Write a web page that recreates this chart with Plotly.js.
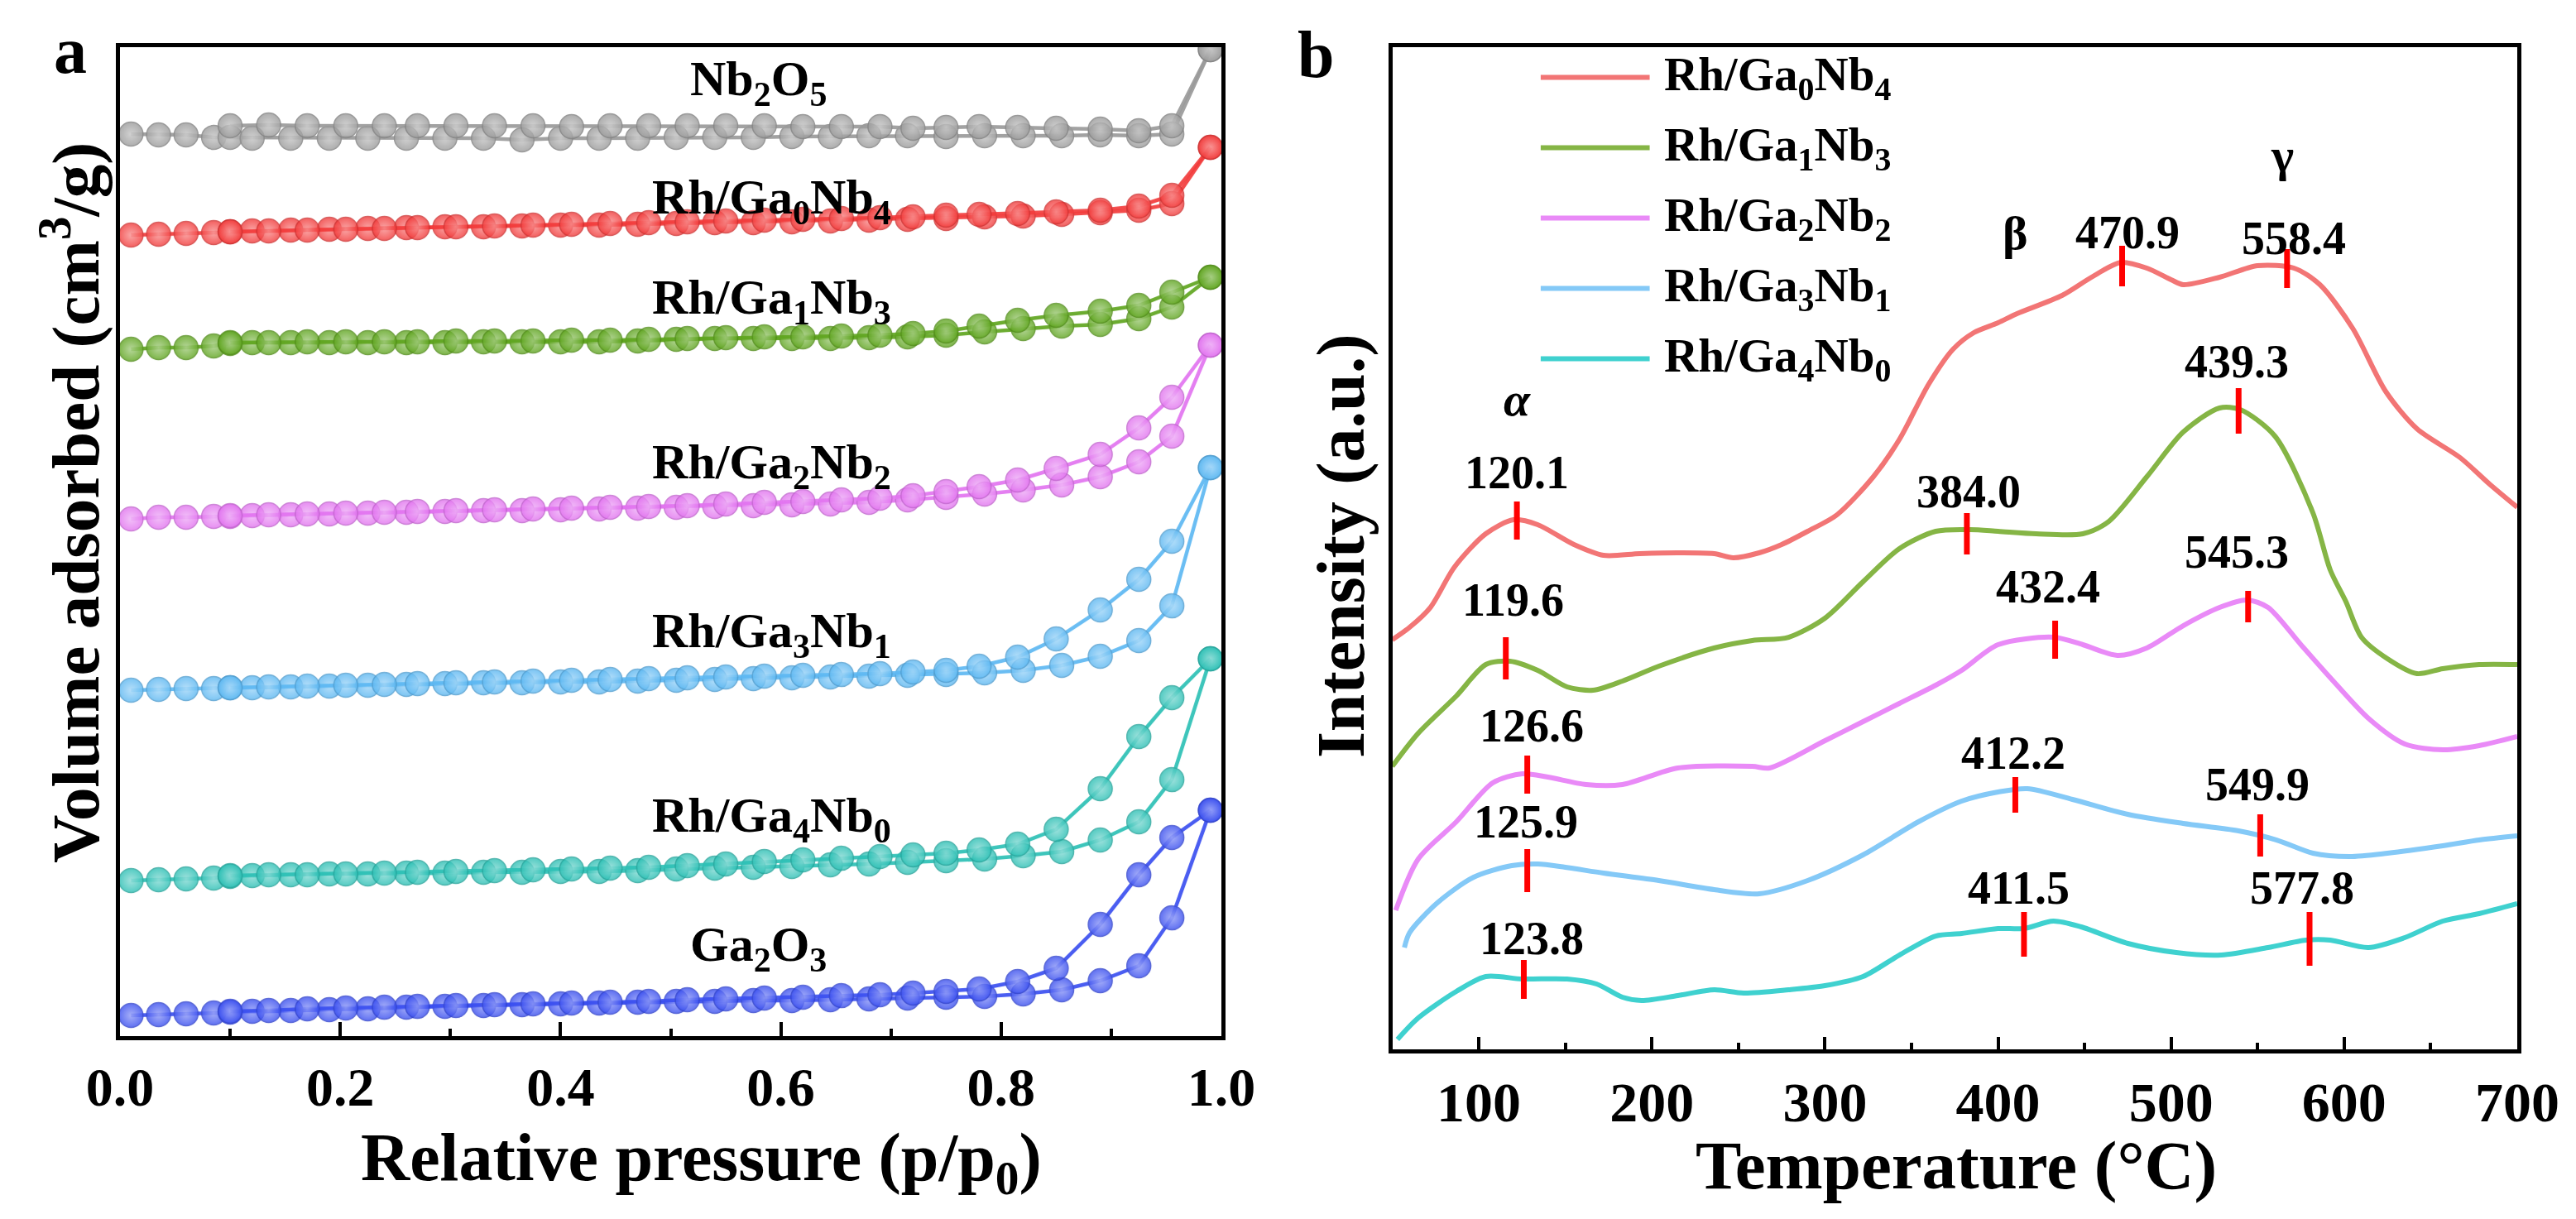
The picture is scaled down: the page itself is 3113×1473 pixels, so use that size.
<!DOCTYPE html>
<html>
<head>
<meta charset="utf-8">
<script src="https://cdn.plot.ly/plotly-3.0.1.min.js"></script>
<style>body{margin:0;background:#fff}</style>
</head>
<body>
<div id="chart" style="width:3113px;height:1473px"></div>
<script>
// ---- panel a : N2 isotherms (offset volume, arbitrary units) ----
var adsP = [0.01,0.035,0.06,0.085,0.10,0.12,0.155,0.19,0.225,0.26,0.295,0.33,0.365,0.40,0.435,0.47,0.505,0.54,0.575,0.61,0.645,0.68,0.715,0.75,0.785,0.82,0.855,0.89,0.925,0.955,0.99];
var desP = [0.99,0.955,0.925,0.89,0.85,0.815,0.78,0.75,0.72,0.69,0.655,0.62,0.585,0.55,0.515,0.48,0.445,0.41,0.375,0.34,0.305,0.27,0.24,0.205,0.17,0.135,0.10];

var nb2o5Ads = [1090,1089,1089,1086,1086,1085,1085,1085,1085,1085,1085,1085,1083,1085,1085,1085,1086,1086,1086,1087,1087,1088,1088,1087,1088,1088,1088,1089,1088,1090,1192];
var nb2o5Des = [1192,1100,1094,1096,1097,1098,1099,1098,1097,1099,1099,1099,1100,1100,1100,1100,1100,1099,1100,1100,1100,1100,1100,1100,1100,1101,1100];
var ga0nb4Ads = [968,969,970,971,972,973,974,975,976,977,978,978,979,980,980,981,982,983,983,984,985,986,987,988,990,991,993,995,998,1006,1074];
var ga0nb4Des = [1074,1016,1003,998,996,994,993,992,990,989,988,987,986,985,984,983,982,981,980,979,978,977,976,975,974,973,972];
var ga1nb3Ads = [830,832,832,834,837,838,838,838,838,838,838,839,839,839,839,840,842,843,843,843,843,844,845,847,851,855,858,860,867,881,917];
var ga1nb3Des = [917,899,883,876,871,865,858,852,849,847,846,845,845,844,843,842,841,841,840,840,840,839,839,839,839,838,838];
var ga2nb2Ads = [625,627,627,628,628,629,630,631,632,633,634,635,635,636,637,638,639,640,641,642,643,645,648,651,655,660,666,676,694,725,835];
var ga2nb2Des = [835,772,735,703,686,672,664,658,653,650,648,646,645,643,641,640,639,638,637,636,635,634,633,632,631,630,629];
var ga3nb1Ads = [418,419,420,420,421,421,422,423,424,425,426,427,427,428,428,429,430,431,432,433,434,435,436,437,439,442,448,459,478,520,687];
var ga3nb1Des = [687,598,552,515,480,458,447,442,440,438,437,436,435,434,433,432,431,430,429,428,427,426,425,424,423,422,421];
var ga4nb0Ads = [188,189,190,191,193,194,195,196,196,197,197,198,198,199,199,200,202,203,204,205,207,208,210,212,214,218,223,237,259,310,456];
var ga4nb0Des = [456,409,362,299,250,232,225,221,219,217,215,213,211,208,206,204,203,202,201,200,199,198,197,196,195,195,194];
var ga2o3Ads = [25,26,27,28,29,30,31,32,33,35,36,37,38,39,40,41,42,42,43,43,44,45,46,47,48,51,56,67,85,143,273];
var ga2o3Des = [273,240,195,135,82,66,57,54,52,50,49,47,46,45,44,42,41,40,39,38,37,36,35,34,33,31,30];

var isoNames = ['Nb<sub>2</sub>O<sub>5</sub>','Rh/Ga<sub>0</sub>Nb<sub>4</sub>','Rh/Ga<sub>1</sub>Nb<sub>3</sub>','Rh/Ga<sub>2</sub>Nb<sub>2</sub>','Rh/Ga<sub>3</sub>Nb<sub>1</sub>','Rh/Ga<sub>4</sub>Nb<sub>0</sub>','Ga<sub>2</sub>O<sub>3</sub>'];
var isoAds = [nb2o5Ads, ga0nb4Ads, ga1nb3Ads, ga2nb2Ads, ga3nb1Ads, ga4nb0Ads, ga2o3Ads];
var isoDes = [nb2o5Des, ga0nb4Des, ga1nb3Des, ga2nb2Des, ga3nb1Des, ga4nb0Des, ga2o3Des];
var isoLabelP = [0.58, 0.592, 0.592, 0.592, 0.592, 0.592, 0.58];
var isoLabelV = [1153, 1010, 889, 690, 486, 263, 107];

// ---- panel b : H2-TPR ----
var tprNames = ['Rh/Ga<sub>0</sub>Nb<sub>4</sub>','Rh/Ga<sub>1</sub>Nb<sub>3</sub>','Rh/Ga<sub>2</sub>Nb<sub>2</sub>','Rh/Ga<sub>3</sub>Nb<sub>1</sub>','Rh/Ga<sub>4</sub>Nb<sub>0</sub>'];
var tRed = [50,60,72,86,104,120,134,155,172,193,215,236,247,262,275,290,307,328,343,360,374,386,400,411,437,454,471,486,500,507,528,550,571,586,605,624,642,667,684,700];
var iRed = [495,510,534,583,623,640,634,610,597,599,600,599,594,600,610,626,646,692,737,804,846,866,878,889,911,933,951,944,930,924,933,947,944,924,871,795,750,715,683,655];
var tGreen = [50,65,87,104,118,134,151,166,183,204,236,258,279,300,322,343,364,384,400,422,449,464,486,507,528,540,560,582,592,601,610,625,642,657,678,700];
var iGreen = [342,382,427,465,469,458,438,434,445,463,485,494,498,521,565,605,626,628,626,623,623,638,692,746,775,773,741,648,579,541,498,472,454,460,465,465];
var tViolet = [52,65,87,108,125,140,162,183,215,258,268,300,322,343,364,379,400,432,449,469,486,507,528,544,556,575,592,614,635,657,678,700];
var iViolet = [168,230,275,322,333,329,320,320,340,342,340,373,396,418,440,458,489,498,489,476,485,512,534,543,534,489,449,400,369,362,367,378];
var tSky = [57,60,76,97,119,134,150,172,204,236,262,290,322,354,379,400,417,443,475,507,539,561,582,603,625,657,678,700];
var iSky = [123,141,177,208,222,224,220,213,204,193,188,204,235,275,300,311,315,302,284,273,264,253,237,233,237,246,253,258];
var tTeal = [53,65,87,104,125,151,168,183,194,215,236,253,279,300,322,343,364,379,400,415,432,448,475,503,529,556,578,592,614,635,657,678,700];
var iTeal = [12,38,70,88,85,85,79,63,59,65,72,68,72,77,88,114,137,140,146,146,155,148,128,117,114,123,132,132,123,135,155,164,176];
var tprT = [tRed, tGreen, tViolet, tSky, tTeal];
var tprI = [iRed, iGreen, iViolet, iSky, iTeal];

var peakLabels = ['120.1','470.9','558.4','119.6','384.0','439.3','126.6','432.4','545.3','125.9','412.2','549.9','123.8','411.5','577.8'];
var markT  = [122,471.7,567,115.6,382,539,128,433,544.5,128,410,551.5,126,415,580];
var markLo = [616,922,920,447,598,744,309,472,516,190,286,233,61,112,101];
var markHi = [662,971,967,498,648,799,355,518,554,242,329,284,108,166,166];
var labelT = [122,475,571,120,383,538,130.6,429,538,127,409,550,130.6,412,575.5];
var labelV = [697,987,980,543,674,831,391,559,601,275,358,320,134.5,195,195];
var greekText = ['<i>α</i>','β','γ'];
var greekT = [122,410,564];
var greekV = [786,987,1081];

var isoColors = ['#9b9b9b','#f23b3b','#5fa51f','#e274f0','#5db8f2','#2cc0b5','#3a4ff0'];
var tprColors = ['#f27575','#85b545','#e98af7','#84c9f7','#3fd1cf'];
var FONT = 'Liberation Serif, Times New Roman, serif';

function mix(hex, f, target){
  var r = parseInt(hex.substr(1,2),16), g = parseInt(hex.substr(3,2),16), b = parseInt(hex.substr(5,2),16);
  r = Math.round(r + (target-r)*f); g = Math.round(g + (target-g)*f); b = Math.round(b + (target-b)*f);
  return 'rgb(' + r + ',' + g + ',' + b + ')';
}
function txt(size){ return {family: FONT, size: size, color: '#000', weight: 'bold'}; }

var data = [];
for (var k = 0; k < isoNames.length; k++){
  var branches = [[adsP, isoAds[k]], [desP, isoDes[k]]];
  for (var j = 0; j < 2; j++){
    data.push({
      x: branches[j][0], y: branches[j][1],
      xaxis: 'x', yaxis: 'y',
      type: 'scatter', mode: 'lines+markers',
      line: {color: isoColors[k], width: 4.5},
      marker: {size: 29, color: isoColors[k], opacity: 0.88,
               gradient: {type: 'radial', color: mix(isoColors[k], 0.45, 255)},
               line: {width: 1.5, color: mix(isoColors[k], 0.15, 0)}},
      opacity: 0.92,
      showlegend: false, hoverinfo: 'skip'
    });
  }
}
for (var k = 0; k < tprNames.length; k++){
  data.push({
    x: tprT[k], y: tprI[k],
    xaxis: 'x2', yaxis: 'y2',
    type: 'scatter', mode: 'lines',
    line: {color: tprColors[k], width: 6, shape: 'spline', smoothing: 0.8},
    name: tprNames[k], showlegend: false
  });
}
// red peak marks
var mx = [], my = [];
for (var i = 0; i < markT.length; i++){
  mx.push(markT[i], markT[i], null);
  my.push(markLo[i], markHi[i], null);
}
data.push({x: mx, y: my, xaxis: 'x2', yaxis: 'y2', type: 'scatter', mode: 'lines',
  line: {color: '#ff0000', width: 7}, showlegend: false, hoverinfo: 'skip'});

var annotations = [];
var shapes = [];
for (var k = 0; k < isoNames.length; k++){
  annotations.push({xref: 'x', yref: 'y', x: isoLabelP[k], y: isoLabelV[k], text: isoNames[k],
    showarrow: false, xanchor: 'center', yanchor: 'middle', font: txt(60)});
}
for (var i = 0; i < peakLabels.length; i++){
  annotations.push({xref: 'x2', yref: 'y2', x: labelT[i], y: labelV[i], text: peakLabels[i],
    showarrow: false, xanchor: 'center', yanchor: 'middle', font: txt(56)});
}
for (var i = 0; i < greekText.length; i++){
  annotations.push({xref: 'x2', yref: 'y2', x: greekT[i], y: greekV[i], text: greekText[i],
    showarrow: false, xanchor: 'center', yanchor: 'middle', font: txt(58)});
}
// hand-made legend (long line samples)
for (var k = 0; k < tprNames.length; k++){
  var yy = 0.9365 - k*0.0577;
  shapes.push({type: 'line', xref: 'paper', yref: 'paper', x0: 0.5981, x1: 0.6404, y0: yy, y1: yy,
    line: {color: tprColors[k], width: 6}});
  annotations.push({xref: 'paper', yref: 'paper', x: 0.6454, y: yy, text: tprNames[k],
    showarrow: false, xanchor: 'left', yanchor: 'middle', font: txt(57)});
}
// panel letters and axis titles
var paperText = [
  {x: 0.0273, y: 0.9586, text: 'a', size: 80, angle: 0},
  {x: 0.5108, y: 0.9552, text: 'b', size: 80, angle: 0},
  {x: 0.0273, y: 0.5879, text: 'Volume adsorbed (cm<sup>3</sup>/g)', size: 81, angle: -90},
  {x: 0.5204, y: 0.5519, text: 'Intensity (a.u.)', size: 82, angle: -90},
  {x: 0.2724, y: 0.0468, text: 'Relative pressure (p/p<sub>0</sub>)', size: 82, angle: 0},
  {x: 0.7594, y: 0.0441, text: 'Temperature (°C)', size: 83, angle: 0}
];
for (var i = 0; i < paperText.length; i++){
  annotations.push({xref: 'paper', yref: 'paper', x: paperText[i].x, y: paperText[i].y,
    text: paperText[i].text, textangle: paperText[i].angle, showarrow: false,
    xanchor: 'center', yanchor: 'middle', font: txt(paperText[i].size)});
}

var axisBase = {showline: true, mirror: true, linecolor: '#000', linewidth: 5,
  showgrid: false, zeroline: false};

var layout = {
  width: 3113, height: 1473,
  margin: {l: 0, r: 0, t: 0, b: 0},
  paper_bgcolor: '#fff', plot_bgcolor: '#fff',
  showlegend: false,
  xaxis: Object.assign({}, axisBase, {domain: [0.04658, 0.47414], anchor: 'y', range: [0, 1],
    tick0: 0, dtick: 0.2, tickformat: '.1f', ticks: 'inside', ticklen: 17, tickwidth: 4, tickcolor: '#000',
    minor: {dtick: 0.1, ticks: 'inside', ticklen: 9, tickwidth: 4, tickcolor: '#000'},
    tickfont: txt(66)}),
  yaxis: Object.assign({}, axisBase, {domain: [0.15003, 0.96130], anchor: 'x', range: [0, 1195],
    showticklabels: false, ticks: ''}),
  xaxis2: Object.assign({}, axisBase, {domain: [0.54048, 0.97719], anchor: 'y2', range: [50, 700],
    tick0: 0, dtick: 100, ticks: 'inside', ticklen: 15, tickwidth: 4, tickcolor: '#000',
    minor: {dtick: 50, ticks: 'inside', ticklen: 8, tickwidth: 4, tickcolor: '#000'},
    tickfont: txt(68)}),
  yaxis2: Object.assign({}, axisBase, {domain: [0.13917, 0.96130], anchor: 'x2', range: [0, 1211],
    showticklabels: false, ticks: ''}),
  annotations: annotations,
  shapes: shapes
};

Plotly.newPlot('chart', data, layout, {displayModeBar: false, staticPlot: true});
</script>
</body>
</html>
